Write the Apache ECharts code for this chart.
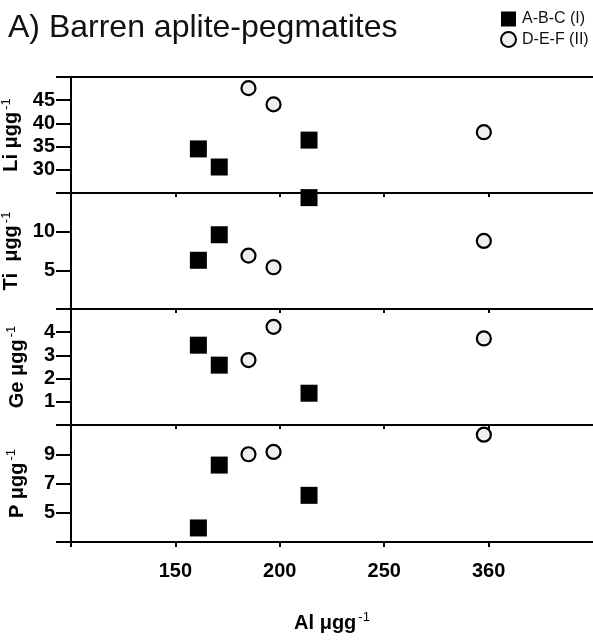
<!DOCTYPE html>
<html>
<head>
<meta charset="utf-8">
<script src="https://cdn.jsdelivr.net/npm/echarts@6/dist/echarts.min.js"></script>
<style>
  html, body { margin: 0; padding: 0; background: #fff; }
  #main { width: 593px; height: 642px; }
</style>
</head>
<body>
<div id="main"></div>
<script>
// Al on the x axis, shared by all four panels
const alGroup1 = [161, 171, 214]
const alGroup2 = [185, 197, 355]

const liGroup1 = [34.5, 30.6, 36.4]
const liGroup2 = [47.6, 44.1, 38.1]
const tiGroup1 = [6.3, 9.6, 14.4]
const tiGroup2 = [6.9, 5.4, 8.8]
const geGroup1 = [3.44, 2.58, 1.37]
const geGroup2 = [2.8, 4.23, 3.73]
const pGroup1 = [3.96, 8.26, 6.19]
const pGroup2 = [9.0, 9.16, 10.34]

const xTickLabels = [150, 200, 250, 360]
const groupNames = ['A-B-C (I)', 'D-E-F (II)']

// panels: name, range, ticks, labels
const panels = [
  { name: 'Li μgg', min: 25, max: 50, ticks: [25, 30, 35, 40, 45, 50], labels: [30, 35, 40, 45], g1: liGroup1, g2: liGroup2 },
  { name: 'Ti  μgg', min: 0, max: 15, ticks: [0, 5, 10, 15], labels: [5, 10], g1: tiGroup1, g2: tiGroup2 },
  { name: 'Ge μgg', min: 0, max: 5, ticks: [0, 1, 2, 3, 4, 5], labels: [1, 2, 3, 4], g1: geGroup1, g2: geGroup2 },
  { name: 'P μgg', min: 3, max: 11, ticks: [3, 5, 7, 9, 11], labels: [5, 7, 9], g1: pGroup1, g2: pGroup2 }
]

// the x axis is broken after 250: the 360 label sits where 300 would be
function alToAxis (v) {
  return v <= 250 ? v : 250 + (v - 250) * 50 / 110
}
const xTickPos = xTickLabels.map(alToAxis)

const chart = echarts.init(document.getElementById('main'))

const FONT = 'Liberation Sans, Arial, sans-serif'
const tops = [77, 193, 309, 425]
const heights = [116, 116, 116, 117]

const nameRich = {
  a: { fontFamily: FONT, fontSize: 20, fontWeight: 'bold', color: '#000', lineHeight: 24 },
  s: { fontFamily: FONT, fontSize: 13, color: '#000', verticalAlign: 'top', lineHeight: 24, padding: [0, 0, 0, 2] }
}

const grids = []
const xAxes = []
const yAxes = []
const series = []

panels.forEach((p, i) => {
  grids.push({ left: 71, right: 0, top: tops[i], height: heights[i], outerBoundsMode: 'none', containLabel: false })
  xAxes.push({
    gridIndex: i,
    type: 'value',
    position: 'top',
    min: 100,
    max: 350,
    axisLine: { onZero: false, lineStyle: { color: '#000', width: 2 } },
    axisTick: {
      show: i > 0,
      inside: true,
      length: 4,
      customValues: [100].concat(xTickPos),
      lineStyle: { color: '#000', width: 2 }
    },
    axisLabel: { show: false },
    splitLine: { show: false }
  })
  yAxes.push({
    gridIndex: i,
    type: 'value',
    min: p.min,
    max: p.max,
    name: '{a|' + p.name + '}{s|-1}',
    nameLocation: 'middle',
    nameGap: 42,
    nameTextStyle: { rich: nameRich },
    axisLine: { show: true, onZero: false, lineStyle: { color: '#000', width: 2 } },
    axisTick: { show: true, length: 15, customValues: p.ticks, lineStyle: { color: '#000', width: 2 } },
    axisLabel: {
      customValues: p.labels,
      margin: 16,
      fontFamily: FONT,
      fontSize: 20,
      fontWeight: 'bold',
      color: '#000'
    },
    splitLine: { show: false }
  })
  series.push({
    name: groupNames[0],
    type: 'scatter',
    xAxisIndex: i,
    yAxisIndex: i,
    symbol: 'rect',
    symbolSize: 17,
    itemStyle: { color: '#000', opacity: 1 },
    data: alGroup1.map((a, k) => [alToAxis(a), p.g1[k]])
  })
  series.push({
    name: groupNames[1],
    type: 'scatter',
    xAxisIndex: i,
    yAxisIndex: i,
    symbol: 'circle',
    symbolSize: 14,
    itemStyle: { color: '#efefef', borderColor: '#000', borderWidth: 2.2, opacity: 1 },
    data: alGroup2.map((a, k) => [alToAxis(a), p.g2[k]])
  })
})

// bottom axis of the last panel carries the labels
xAxes.push({
  gridIndex: 3,
  type: 'value',
  position: 'bottom',
  min: 100,
  max: 350,
  name: '{a|Al μgg}{s|-1}',
  nameLocation: 'middle',
  nameGap: 69,
  nameTextStyle: { rich: nameRich },
  axisLine: { onZero: false, lineStyle: { color: '#000', width: 2 } },
  axisTick: { length: 5, customValues: [100].concat(xTickPos), lineStyle: { color: '#000', width: 2 } },
  axisLabel: {
    customValues: xTickPos,
    formatter: (v) => String(xTickLabels[xTickPos.indexOf(v)]),
    margin: 19,
    fontFamily: FONT,
    fontSize: 20,
    fontWeight: 'bold',
    color: '#000'
  },
  splitLine: { show: false }
})

const option = {
  animation: false,
  backgroundColor: '#fff',
  title: {
    text: 'A) Barren aplite-pegmatites',
    left: 3,
    top: 7,
    textStyle: { fontFamily: FONT, fontSize: 32, fontWeight: 'normal', color: '#111' }
  },
  legend: {
    orient: 'vertical',
    left: 495,
    top: 6,
    itemWidth: 15,
    itemHeight: 15,
    itemGap: 4,
    textStyle: { fontFamily: FONT, fontSize: 16, color: '#111', padding: [0, 0, 0, 1] },
    data: groupNames
  },
  grid: grids,
  xAxis: xAxes,
  yAxis: yAxes,
  series: series
}

chart.setOption(option)
</script>
</body>
</html>
